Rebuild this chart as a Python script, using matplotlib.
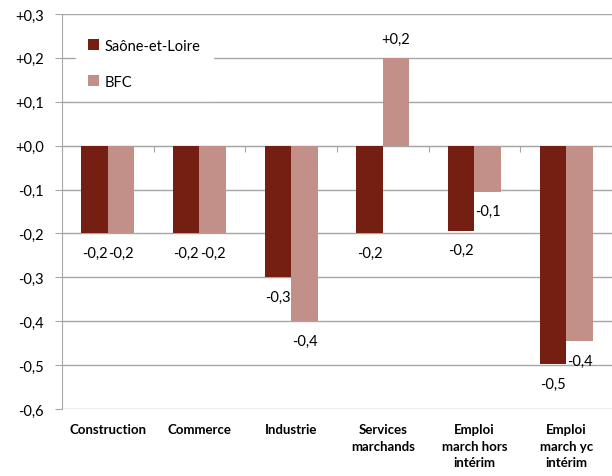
import matplotlib as mpl
mpl.use('Agg')
import matplotlib.pyplot as plt
import numpy as np

# Data
categories = ["Construction", "Commerce", "Industrie", "Services\nmarchands",
              "Emploi\nmarch hors\nintérim", "Emploi\nmarch yc\nintérim"]
saone = [-0.20, -0.20, -0.30, -0.20, -0.194, -0.498]
bfc = [-0.20, -0.20, -0.40, 0.20, -0.105, -0.446]
series_names = ["Saône-et-Loire", "BFC"]
yticks = [0.3, 0.2, 0.1, 0.0, -0.1, -0.2, -0.3, -0.4, -0.5, -0.6]

# Style
dark = '#751E12'
light = '#C29089'
gridc = '#A6A6A6'
plt.rcParams['font.family'] = ['Lato', 'DejaVu Sans']

def fmt(v):
    return ("%+.1f" % v).replace('.', ',')

fig = plt.figure(figsize=(6.12, 4.77), dpi=100)
ax = fig.add_axes([0.1013, 0.1405, 0.8987, 0.8281])

x = np.arange(len(categories))
w = 0.29
b1 = ax.bar(x - w/2, saone, w, color=dark, label=series_names[0], zorder=3)
b2 = ax.bar(x + w/2, bfc, w, color=light, label=series_names[1], zorder=3)

# value labels
for bars, vals in [(b1, saone), (b2, bfc)]:
    for r, v in zip(bars, vals):
        xc = r.get_x() + r.get_width()/2
        off = 14 if v > 0 else -14
        ax.annotate(fmt(v), (xc, v), xytext=(0, off), textcoords='offset points',
                    ha='center', va='center', fontsize=10.5, color='black', zorder=4)

ax.set_ylim(-0.6, 0.3)
ax.set_xlim(-0.5, 5.5)
ax.set_yticks(yticks)
ax.set_yticklabels([fmt(t) if t != 0 else "+0,0" for t in yticks], fontsize=10.5)
ax.yaxis.grid(True, color=gridc, linewidth=1.0, zorder=0)
ax.tick_params(axis='y', direction='out', length=5, color=gridc, pad=8)

# x axis at zero with tick marks between categories
for s in ['top', 'right']:
    ax.spines[s].set_visible(False)
ax.spines['left'].set_color(gridc)
ax.spines['bottom'].set_position(('data', 0))
ax.spines['bottom'].set_color(gridc)
ax.spines['bottom'].set_zorder(2)
ax.set_xticks(np.arange(-0.5, 6.0, 1.0))
ax.set_xticklabels([])
ax.tick_params(axis='x', direction='out', length=4, color=gridc)

# category labels below the plot area
for i, c in enumerate(categories):
    ax.text(i, -0.036, c, transform=ax.get_xaxis_transform(), ha='center', va='top',
            fontsize=9.5, fontweight='bold', linespacing=1.45)

leg = ax.legend(loc='upper left', bbox_to_anchor=(0.012, 0.985), frameon=True,
                fontsize=10.5, handlelength=0.8, handleheight=0.8, handletextpad=0.4,
                labelspacing=1.5, borderpad=0.8, fancybox=False)
leg.get_frame().set_edgecolor('white')
leg.get_frame().set_facecolor('white')
leg.get_frame().set_alpha(1)

plt.savefig('out.png', dpi=100)
